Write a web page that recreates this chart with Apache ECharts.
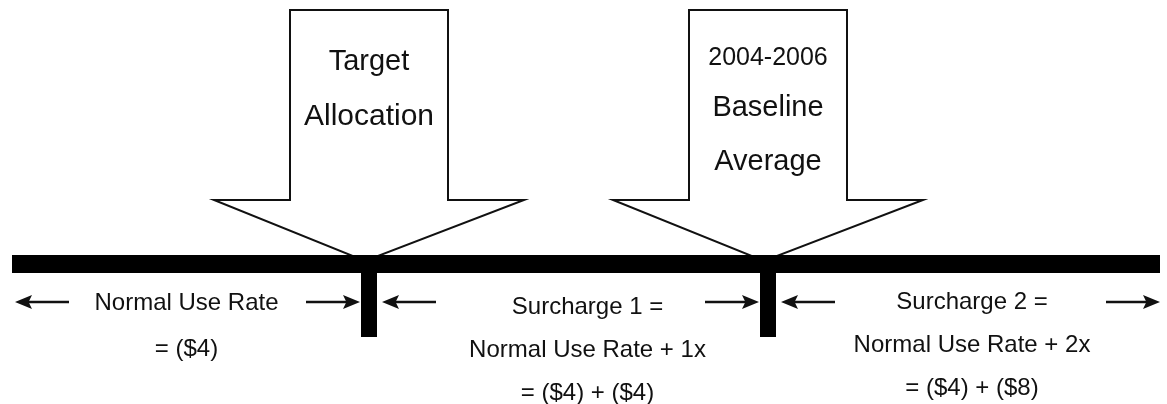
<!DOCTYPE html>
<html><head><meta charset="utf-8">
<script src="https://cdn.jsdelivr.net/npm/echarts@6/dist/echarts.min.js"></script>
<style>html,body{margin:0;padding:0;background:#fff}#c{width:1167px;height:404px}</style>
</head><body><div id="c"></div>
<script>
// ---- data ----
const thresholdLabels = [['Target', 'Allocation'], ['2004-2006', 'Baseline', 'Average']];
const thresholdPositions = [369, 768];          // where each threshold sits on the usage line
const lineRange = [12, 1160];                   // extent of the usage line
const zoneLabels = [
  ['Normal Use Rate', '= ($4)'],
  ['Surcharge 1 =', 'Normal Use Rate + 1x', '= ($4) + ($4)'],
  ['Surcharge 2 =', 'Normal Use Rate + 2x', '= ($4) + ($8)']
];

// ---- style ----
const FONT = '"Liberation Sans", Arial, Helvetica, sans-serif';
const INK = '#111';
const LINE_Y = 264, BAR_H = 18, STEM_W = 16, STEM_BOTTOM = 337;
const ARROW = { boxHalf: 79, wingHalf: 155, top: 10, shoulder: 200, tip: 261 };
const arrowTextY = [[62, 117], [58, 108, 162]];
const arrowTextSize = [[29, 30], [25, 29, 29]];
const zoneTextDx = [-4, 19, 8];
const zoneTextY0 = [303, 307, 302];
const zoneTextGap = [46, 43, 43];
const ZONE_FONT = 24;
const SMALL_Y = 302, SMALL_LEN = 54, HEAD_L = 17, HEAD_W = 7;

const chart = echarts.init(document.getElementById('c'), null, { renderer: 'canvas' });

function pt(api, x, y) { return api.coord([x, y]); }

function smallArrow(api, headX, tailX, y) {
  const h = pt(api, headX, y), t = pt(api, tailX, y);
  const dir = Math.sign(h[0] - t[0]);
  return [
    { type: 'line', shape: { x1: t[0], y1: t[1], x2: h[0] - dir * HEAD_L * 0.6, y2: h[1] },
      style: { stroke: INK, lineWidth: 2.4 } },
    { type: 'polygon', shape: { points: [[h[0], h[1]], [h[0] - dir * HEAD_L, h[1] - HEAD_W], [h[0] - dir * HEAD_L * 0.8, h[1]], [h[0] - dir * HEAD_L, h[1] + HEAD_W]] },
      style: { fill: INK } }
  ];
}

const boundaries = [lineRange[0], ...thresholdPositions, lineRange[1]];

const option = {
  animation: false,
  backgroundColor: '#fff',
  grid: { left: 0, right: 0, top: 0, bottom: 0 },
  xAxis: { type: 'value', min: 0, max: 1167, show: false },
  yAxis: { type: 'value', min: 0, max: 404, inverse: true, show: false },
  series: [
    { // big threshold arrows
      type: 'custom', z: 1,
      data: thresholdPositions.map((v, i) => [v, i]),
      renderItem(params, api) {
        const x = api.value(0), i = api.value(1);
        const P = (dx, y) => pt(api, x + dx, y);
        const pts = [
          P(-ARROW.boxHalf, ARROW.top), P(ARROW.boxHalf, ARROW.top),
          P(ARROW.boxHalf, ARROW.shoulder), P(ARROW.wingHalf, ARROW.shoulder),
          P(-4, ARROW.tip), P(-ARROW.wingHalf, ARROW.shoulder),
          P(-ARROW.boxHalf, ARROW.shoulder)
        ];
        const children = [{ type: 'polygon', shape: { points: pts },
          style: { fill: '#fff', stroke: INK, lineWidth: 2, lineJoin: 'miter' } }];
        thresholdLabels[i].forEach((t, k) => {
          const c = P(0, arrowTextY[i][k]);
          children.push({ type: 'text', style: { text: t, x: c[0], y: c[1], align: 'center', verticalAlign: 'middle',
            fontSize: arrowTextSize[i][k], fontFamily: FONT, fill: INK } });
        });
        return { type: 'group', children };
      }
    },
    { // usage line and threshold stems
      type: 'custom', z: 2,
      data: [[lineRange[0], lineRange[1]]],
      renderItem(params, api) {
        const a = pt(api, api.value(0), LINE_Y - BAR_H / 2);
        const b = pt(api, api.value(1), LINE_Y + BAR_H / 2);
        const children = [{ type: 'rect', shape: { x: a[0], y: a[1], width: b[0] - a[0], height: b[1] - a[1] }, style: { fill: '#000' } }];
        thresholdPositions.forEach(v => {
          const s = pt(api, v - STEM_W / 2, LINE_Y);
          const e = pt(api, v + STEM_W / 2, STEM_BOTTOM);
          children.push({ type: 'rect', shape: { x: s[0], y: s[1], width: e[0] - s[0], height: e[1] - s[1] }, style: { fill: '#000' } });
        });
        return { type: 'group', children };
      }
    },
    { // zone labels and span arrows
      type: 'custom', z: 3,
      data: zoneLabels.map((_, i) => [i]),
      renderItem(params, api) {
        const i = api.value(0);
        const x0 = boundaries[i], x1 = boundaries[i + 1];
        const children = [];
        const leftHead = i === 0 ? x0 + 3 : x0 + 13;
        const rightHead = i === zoneLabels.length - 1 ? x1 : x1 - 9;
        children.push(...smallArrow(api, leftHead, leftHead + SMALL_LEN, SMALL_Y));
        children.push(...smallArrow(api, rightHead, rightHead - SMALL_LEN, SMALL_Y));
        const cx = (x0 + x1) / 2 + zoneTextDx[i];
        zoneLabels[i].forEach((t, k) => {
          const c = pt(api, cx, zoneTextY0[i] + k * zoneTextGap[i]);
          children.push({ type: 'text', style: { text: t, x: c[0], y: c[1], align: 'center', verticalAlign: 'middle',
            fontSize: ZONE_FONT, fontFamily: FONT, fill: INK } });
        });
        return { type: 'group', children };
      }
    }
  ]
};
chart.setOption(option);
</script>
</body></html>
